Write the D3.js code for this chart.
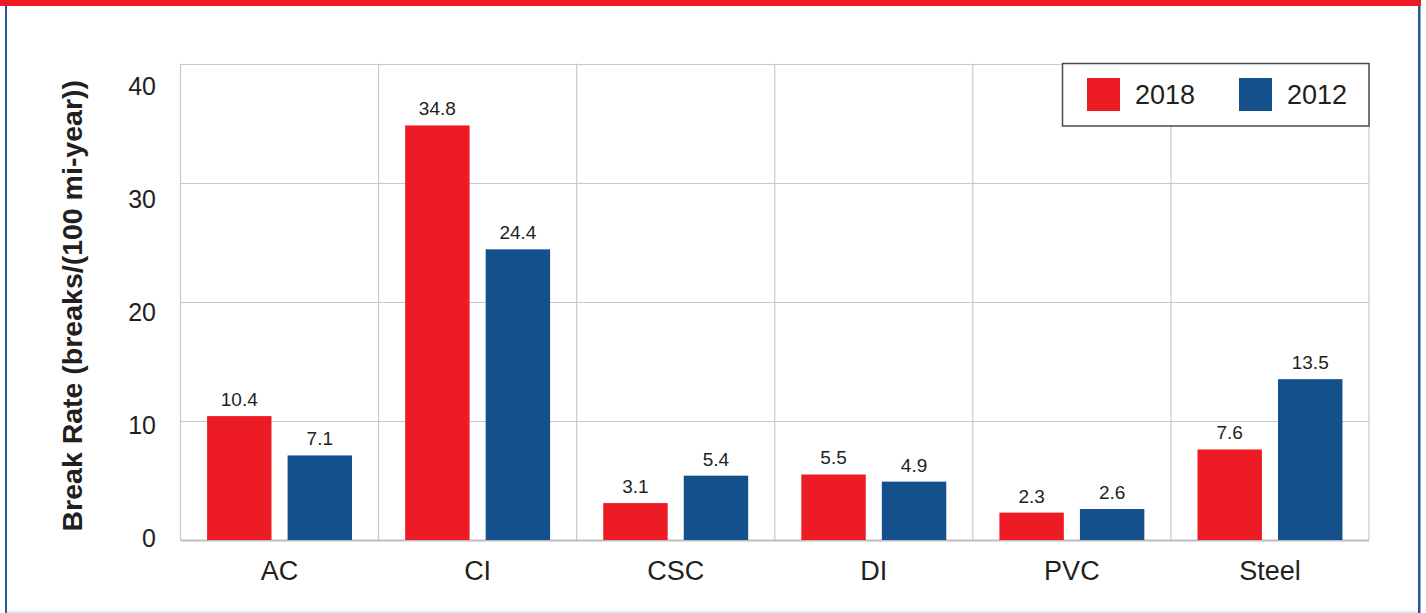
<!DOCTYPE html>
<html>
<head>
<meta charset="utf-8">
<script src="https://cdn.jsdelivr.net/npm/d3@7"></script>
<style>
  html, body { margin: 0; padding: 0; background: #fff; }
  svg { display: block; }
  text { font-family: "Liberation Sans", Arial, Helvetica, sans-serif; }
</style>
</head>
<body>
<svg id="chart" width="1426" height="613"></svg>
<script>
const categories = ["AC", "CI", "CSC", "DI", "PVC", "Steel"];
const seriesNames = ["2018", "2012"];
const values2018 = [10.4, 34.8, 3.1, 5.5, 2.3, 7.6];
const values2012 = [7.1, 24.4, 5.4, 4.9, 2.6, 13.5];
const yTicks = [0, 10, 20, 30, 40];
const colors = ["#ED1C24", "#14508C"];
const yTitle = "Break Rate (breaks/(100 mi-year))";

const seriesValues = [values2018, values2012];
const svg = d3.select("#chart");

// frame decorations
svg.append("rect").attr("x", 0).attr("y", 0).attr("width", 1421).attr("height", 6).attr("fill", "#ED1C24");
svg.append("rect").attr("x", 5).attr("y", 6).attr("width", 2).attr("height", 607).attr("fill", "#1F5A99");
svg.append("rect").attr("x", 1418).attr("y", 6).attr("width", 2.5).attr("height", 607).attr("fill", "#1F5A99");
svg.append("rect").attr("x", 7).attr("y", 611).attr("width", 1411).attr("height", 2).attr("fill", "#E3EAF2");

const plotL = 180.5, plotR = 1369, plotT = 63.5, plotB = 540;

const x0 = d3.scaleBand().domain(categories).range([plotL, plotR]).padding(0);
const x1 = d3.scaleBand().domain(seriesNames).range([0, x0.bandwidth()]).paddingInner(0.2).paddingOuter(0.33);
const y = d3.scaleLinear().domain([0, 40]).range([plotB, plotT]);
// tick labels in the reference sit on a slightly compressed scale
const yLabel = d3.scaleLinear().domain([0, 40]).range([537.5, 85.5]);

// horizontal grid
svg.append("g").selectAll("line").data(yTicks).join("line")
  .attr("x1", plotL).attr("x2", plotR)
  .attr("y1", d => Math.round(y(d)) + 0.5).attr("y2", d => Math.round(y(d)) + 0.5)
  .attr("stroke", "#C9C9C9").attr("stroke-width", 1.2);

// vertical category dividers
const dividers = categories.map(c => x0(c)).concat([plotR]);
svg.append("g").selectAll("line").data(dividers).join("line")
  .attr("x1", d => d).attr("x2", d => d)
  .attr("y1", plotT).attr("y2", plotB)
  .attr("stroke", "#C9C9C9").attr("stroke-width", 1.2);

// bottom axis line
svg.append("line").attr("x1", plotL).attr("x2", plotR).attr("y1", plotB + 0.5).attr("y2", plotB + 0.5)
  .attr("stroke", "#BDBDBD").attr("stroke-width", 2);

// y tick labels
svg.append("g").selectAll("text").data(yTicks).join("text")
  .attr("x", 156).attr("y", d => yLabel(d))
  .attr("dy", "0.36em")
  .attr("text-anchor", "end")
  .attr("font-size", 25).attr("fill", "#231F20")
  .text(d => d);

// y title
svg.append("text")
  .attr("transform", `translate(82, ${(plotT + plotB) / 2 + 4}) rotate(-90)`)
  .attr("text-anchor", "middle")
  .attr("font-size", 28.5).attr("font-weight", "bold").attr("fill", "#231F20")
  .text(yTitle);

// bars
const groups = svg.append("g").selectAll("g").data(categories).join("g")
  .attr("transform", c => `translate(${x0(c)},0)`);

groups.selectAll("rect")
  .data((c, i) => seriesNames.map((s, j) => ({ s, v: seriesValues[j][i], j })))
  .join("rect")
  .attr("x", d => x1(d.s)).attr("width", x1.bandwidth())
  .attr("y", d => y(d.v)).attr("height", d => y(0) - y(d.v))
  .attr("fill", d => colors[d.j]);

groups.selectAll("text.val")
  .data((c, i) => seriesNames.map((s, j) => ({ s, v: seriesValues[j][i], j })))
  .join("text").attr("class", "val")
  .attr("x", d => x1(d.s) + x1.bandwidth() / 2)
  .attr("y", d => y(d.v) - 10)
  .attr("text-anchor", "middle")
  .attr("font-size", 19).attr("fill", "#231F20")
  .text(d => d.v.toFixed(1));

// category labels
svg.append("g").selectAll("text").data(categories).join("text")
  .attr("x", c => x0(c) + x0.bandwidth() / 2)
  .attr("y", 580)
  .attr("text-anchor", "middle")
  .attr("font-size", 27).attr("fill", "#231F20")
  .text(c => c);

// legend
const lg = svg.append("g");
lg.append("rect").attr("x", 1062.5).attr("y", 63.5).attr("width", 306.5).attr("height", 62.5)
  .attr("fill", "#fff").attr("stroke", "#4A4A4A").attr("stroke-width", 1.5);
const legendX = [1087, 1239];
seriesNames.forEach((s, j) => {
  lg.append("rect").attr("x", legendX[j]).attr("y", 78).attr("width", 33).attr("height", 33).attr("fill", colors[j]);
  lg.append("text").attr("x", legendX[j] + 48).attr("y", 104)
    .attr("font-size", 27).attr("fill", "#231F20").text(s);
});
</script>
</body>
</html>
